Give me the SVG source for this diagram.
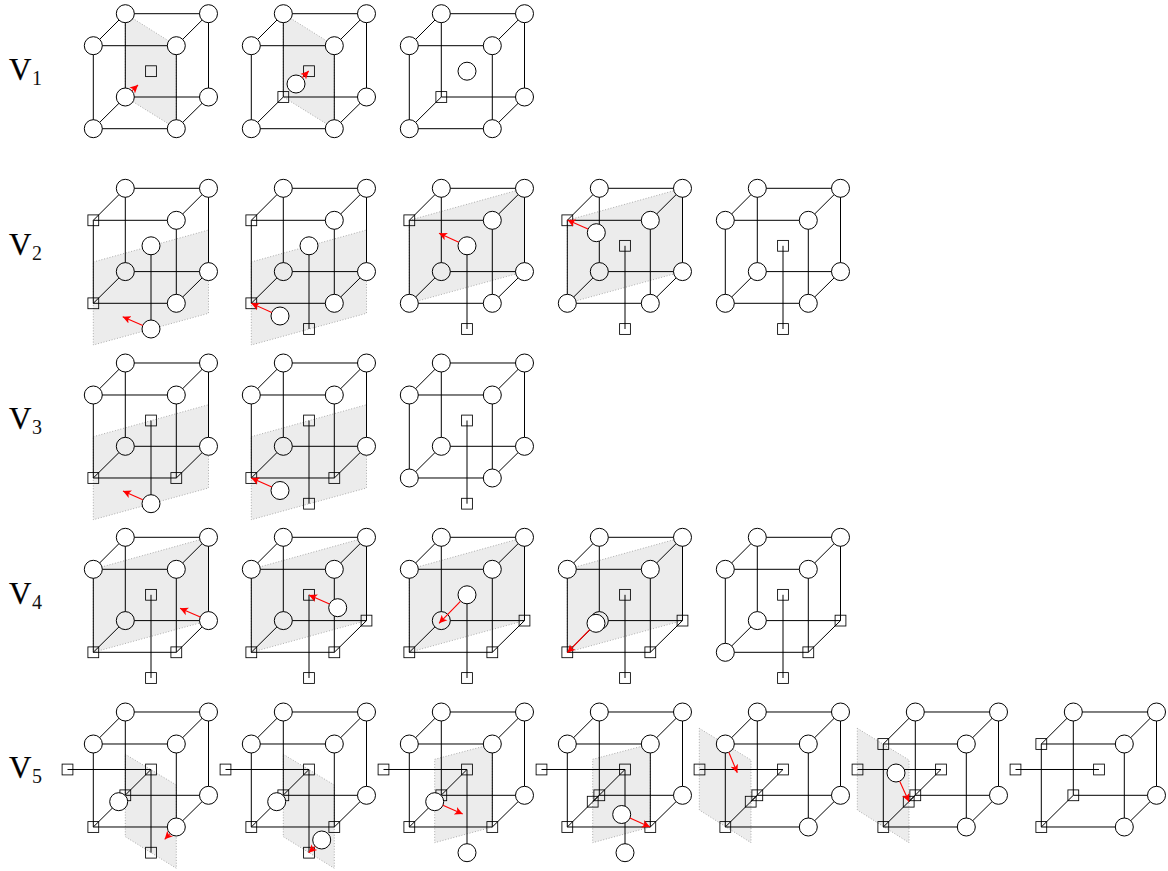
<svg xmlns="http://www.w3.org/2000/svg" width="1168" height="871" viewBox="0 0 1168 871">
<style>
.bg{fill:#fff}
.lab{font-family:"Liberation Serif","DejaVu Serif",serif;font-size:31px;fill:#000;stroke:#000;stroke-width:.25}
.sub{font-size:20px;fill:#111;stroke-width:0}
.plane{fill:#ececec;stroke:#999;stroke-width:.8;stroke-dasharray:1 1.8}
.edge{fill:none;stroke:#000;stroke-width:1}
.circ{fill:#fff;stroke:#000;stroke-width:1}
.shade{fill:#ececec;stroke:#000;stroke-width:1}
.sq{fill:none;stroke:#000;stroke-width:.85}
.arr{stroke:#f00;stroke-width:1.1;fill:none;marker-end:url(#head)}
</style>
<defs>
<marker id="head" markerUnits="userSpaceOnUse" markerWidth="12" markerHeight="12" refX="8" refY="5" orient="auto"><path d="M0 1L8 5L0 9L2 5Z" fill="#f00"/></marker>
<circle id="c" r="9" class="circ"/>
<circle id="g" r="9" class="shade"/>
<rect id="s" x="-5.4" y="-5.4" width="10.8" height="10.8" class="sq"/>
<path id="cube" class="edge" d="M93.3 45.7H176.3V128.7H93.3ZM125.3 13.7H208.5V97H125.3ZM93.3 45.7L125.3 13.7M176.3 45.7L208.5 13.7M93.3 128.7L125.3 97M176.3 128.7L208.5 97"/>
<path id="ij" class="edge" d="M151 71.2V154.4"/>
<path id="kl" class="edge" d="M67.5 71.2H151"/>
<path id="lz" class="edge" d="M151 71.2L118.7 103.4"/>
<polygon id="p1" class="plane" points="125.3,13.7 176.3,45.7 176.3,128.7 125.3,97"/>
<polygon id="p2" class="plane" points="93.3,87.4 208.5,55.4 208.5,138.7 93.3,170.4"/>
<polygon id="p3" class="plane" points="93.3,45.7 208.5,13.7 208.5,97 93.3,128.7"/>
<polygon id="p4" class="plane" points="125.3,56 176.3,86.7 176.3,170 125.3,138.4"/>
<polygon id="p5" class="plane" points="118.7,61 176.3,45.7 176.3,128.7 118.7,144.4"/>
<polygon id="p6" class="plane" points="67.3,30 119,61.7 119,144.4 67.3,111.7"/>
</defs>
<rect class="bg" width="1168" height="871"/>
<g id="labels">
<text class="lab" x="9" y="80">V<tspan class="sub" x="32" y="85">1</tspan></text>
<text class="lab" x="9" y="254.5">V<tspan class="sub" x="32" y="259.5">2</tspan></text>
<text class="lab" x="9" y="429">V<tspan class="sub" x="32" y="434">3</tspan></text>
<text class="lab" x="9" y="603.5">V<tspan class="sub" x="32" y="608.5">4</tspan></text>
<text class="lab" x="9" y="778">V<tspan class="sub" x="32" y="783">5</tspan></text>
</g>
<g id="planes">
<use href="#p1" transform="translate(0 0)"/>
<use href="#p1" transform="translate(158 0)"/>
<use href="#p2" transform="translate(0 174.6)"/>
<use href="#p2" transform="translate(158 174.6)"/>
<use href="#p3" transform="translate(316 174.6)"/>
<use href="#p3" transform="translate(474 174.6)"/>
<use href="#p2" transform="translate(0 349.3)"/>
<use href="#p2" transform="translate(158 349.3)"/>
<use href="#p3" transform="translate(0 523.6)"/>
<use href="#p3" transform="translate(158 523.6)"/>
<use href="#p3" transform="translate(316 523.6)"/>
<use href="#p3" transform="translate(474 523.6)"/>
<use href="#p4" transform="translate(0 698.3)"/>
<use href="#p4" transform="translate(158 698.3)"/>
<use href="#p5" transform="translate(316 698.3)"/>
<use href="#p5" transform="translate(474 698.3)"/>
<use href="#p6" transform="translate(632 698.3)"/>
<use href="#p6" transform="translate(790 698.3)"/>
</g>
<g id="connectors">
<use href="#cube" transform="translate(0 0)"/>
<use href="#cube" transform="translate(158 0)"/>
<use href="#cube" transform="translate(316 0)"/>
<g transform="translate(0 174.6)"><use href="#cube"/><use href="#ij"/></g>
<g transform="translate(158 174.6)"><use href="#cube"/><use href="#ij"/></g>
<g transform="translate(316 174.6)"><use href="#cube"/><use href="#ij"/></g>
<g transform="translate(474 174.6)"><use href="#cube"/><use href="#ij"/></g>
<g transform="translate(632 174.6)"><use href="#cube"/><use href="#ij"/></g>
<g transform="translate(0 349.3)"><use href="#cube"/><use href="#ij"/></g>
<g transform="translate(158 349.3)"><use href="#cube"/><use href="#ij"/></g>
<g transform="translate(316 349.3)"><use href="#cube"/><use href="#ij"/></g>
<g transform="translate(0 523.6)"><use href="#cube"/><use href="#ij"/></g>
<g transform="translate(158 523.6)"><use href="#cube"/><use href="#ij"/></g>
<g transform="translate(316 523.6)"><use href="#cube"/><use href="#ij"/></g>
<g transform="translate(474 523.6)"><use href="#cube"/><use href="#ij"/></g>
<g transform="translate(632 523.6)"><use href="#cube"/><use href="#ij"/></g>
<g transform="translate(0 698.3)"><use href="#cube"/><use href="#ij"/><use href="#kl"/><use href="#lz"/></g>
<g transform="translate(158 698.3)"><use href="#cube"/><use href="#ij"/><use href="#kl"/><use href="#lz"/></g>
<g transform="translate(316 698.3)"><use href="#cube"/><use href="#ij"/><use href="#kl"/><use href="#lz"/></g>
<g transform="translate(474 698.3)"><use href="#cube"/><use href="#ij"/><use href="#kl"/><use href="#lz"/></g>
<g transform="translate(632 698.3)"><use href="#cube"/><use href="#kl"/><use href="#lz"/></g>
<g transform="translate(790 698.3)"><use href="#cube"/><use href="#kl"/><use href="#lz"/></g>
<g transform="translate(948 698.3)"><use href="#cube"/><use href="#kl"/></g>
</g>
<g id="nodes">
<g id="p11" transform="translate(0 0)">
<g id="p11A"><use href="#c" x="93.3" y="45.7"/></g><g id="p11B"><use href="#c" x="176.3" y="45.7"/></g><g id="p11C"><use href="#c" x="125.3" y="13.7"/></g><g id="p11D"><use href="#c" x="208.5" y="13.7"/></g><g id="p11E"><use href="#c" x="93.3" y="128.7"/></g><g id="p11F"><use href="#c" x="176.3" y="128.7"/></g><g id="p11G"><use href="#c" x="125.3" y="97"/></g><g id="p11H"><use href="#c" x="208.5" y="97"/></g><g id="p11I"><use href="#s" x="151" y="71.2"/></g>
</g>
<g id="p12" transform="translate(158 0)">
<g id="p12A"><use href="#c" x="93.3" y="45.7"/></g><g id="p12B"><use href="#c" x="176.3" y="45.7"/></g><g id="p12C"><use href="#c" x="125.3" y="13.7"/></g><g id="p12D"><use href="#c" x="208.5" y="13.7"/></g><g id="p12E"><use href="#c" x="93.3" y="128.7"/></g><g id="p12F"><use href="#c" x="176.3" y="128.7"/></g><g id="p12G"><use href="#s" x="125.3" y="97"/></g><g id="p12H"><use href="#c" x="208.5" y="97"/></g><g id="p12I"><use href="#s" x="151" y="71.2"/></g><g id="p12M"><use href="#c" x="138" y="84"/></g>
</g>
<g id="p13" transform="translate(316 0)">
<g id="p13A"><use href="#c" x="93.3" y="45.7"/></g><g id="p13B"><use href="#c" x="176.3" y="45.7"/></g><g id="p13C"><use href="#c" x="125.3" y="13.7"/></g><g id="p13D"><use href="#c" x="208.5" y="13.7"/></g><g id="p13E"><use href="#c" x="93.3" y="128.7"/></g><g id="p13F"><use href="#c" x="176.3" y="128.7"/></g><g id="p13G"><use href="#s" x="125.3" y="97"/></g><g id="p13H"><use href="#c" x="208.5" y="97"/></g><g id="p13I"><use href="#c" x="151" y="71.2"/></g>
</g>
<g id="p21" transform="translate(0 174.6)">
<g id="p21A"><use href="#s" x="93.3" y="45.7"/></g><g id="p21B"><use href="#c" x="176.3" y="45.7"/></g><g id="p21C"><use href="#c" x="125.3" y="13.7"/></g><g id="p21D"><use href="#c" x="208.5" y="13.7"/></g><g id="p21E"><use href="#s" x="93.3" y="128.7"/></g><g id="p21F"><use href="#c" x="176.3" y="128.7"/></g><g id="p21G"><use href="#g" x="125.3" y="97"/></g><g id="p21H"><use href="#c" x="208.5" y="97"/></g><g id="p21I"><use href="#c" x="151" y="71.2"/></g><g id="p21J"><use href="#c" x="151" y="154.4"/></g>
</g>
<g id="p22" transform="translate(158 174.6)">
<g id="p22A"><use href="#s" x="93.3" y="45.7"/></g><g id="p22B"><use href="#c" x="176.3" y="45.7"/></g><g id="p22C"><use href="#c" x="125.3" y="13.7"/></g><g id="p22D"><use href="#c" x="208.5" y="13.7"/></g><g id="p22E"><use href="#s" x="93.3" y="128.7"/></g><g id="p22F"><use href="#c" x="176.3" y="128.7"/></g><g id="p22G"><use href="#g" x="125.3" y="97"/></g><g id="p22H"><use href="#c" x="208.5" y="97"/></g><g id="p22I"><use href="#c" x="151" y="71.2"/></g><g id="p22J"><use href="#s" x="151" y="154.4"/></g><g id="p22M"><use href="#c" x="122" y="141.4"/></g>
</g>
<g id="p23" transform="translate(316 174.6)">
<g id="p23A"><use href="#s" x="93.3" y="45.7"/></g><g id="p23B"><use href="#c" x="176.3" y="45.7"/></g><g id="p23C"><use href="#c" x="125.3" y="13.7"/></g><g id="p23D"><use href="#c" x="208.5" y="13.7"/></g><g id="p23E"><use href="#c" x="93.3" y="128.7"/></g><g id="p23F"><use href="#c" x="176.3" y="128.7"/></g><g id="p23G"><use href="#g" x="125.3" y="97"/></g><g id="p23H"><use href="#c" x="208.5" y="97"/></g><g id="p23I"><use href="#c" x="151" y="71.2"/></g><g id="p23J"><use href="#s" x="151" y="154.4"/></g>
</g>
<g id="p24" transform="translate(474 174.6)">
<g id="p24A"><use href="#s" x="93.3" y="45.7"/></g><g id="p24B"><use href="#c" x="176.3" y="45.7"/></g><g id="p24C"><use href="#c" x="125.3" y="13.7"/></g><g id="p24D"><use href="#c" x="208.5" y="13.7"/></g><g id="p24E"><use href="#c" x="93.3" y="128.7"/></g><g id="p24F"><use href="#c" x="176.3" y="128.7"/></g><g id="p24G"><use href="#g" x="125.3" y="97"/></g><g id="p24H"><use href="#c" x="208.5" y="97"/></g><g id="p24I"><use href="#s" x="151" y="71.2"/></g><g id="p24J"><use href="#s" x="151" y="154.4"/></g><g id="p24M"><use href="#c" x="122.3" y="58.1"/></g>
</g>
<g id="p25" transform="translate(632 174.6)">
<g id="p25A"><use href="#c" x="93.3" y="45.7"/></g><g id="p25B"><use href="#c" x="176.3" y="45.7"/></g><g id="p25C"><use href="#c" x="125.3" y="13.7"/></g><g id="p25D"><use href="#c" x="208.5" y="13.7"/></g><g id="p25E"><use href="#c" x="93.3" y="128.7"/></g><g id="p25F"><use href="#c" x="176.3" y="128.7"/></g><g id="p25G"><use href="#c" x="125.3" y="97"/></g><g id="p25H"><use href="#c" x="208.5" y="97"/></g><g id="p25I"><use href="#s" x="151" y="71.2"/></g><g id="p25J"><use href="#s" x="151" y="154.4"/></g>
</g>
<g id="p31" transform="translate(0 349.3)">
<g id="p31A"><use href="#c" x="93.3" y="45.7"/></g><g id="p31B"><use href="#c" x="176.3" y="45.7"/></g><g id="p31C"><use href="#c" x="125.3" y="13.7"/></g><g id="p31D"><use href="#c" x="208.5" y="13.7"/></g><g id="p31E"><use href="#s" x="93.3" y="128.7"/></g><g id="p31F"><use href="#s" x="176.3" y="128.7"/></g><g id="p31G"><use href="#g" x="125.3" y="97"/></g><g id="p31H"><use href="#c" x="208.5" y="97"/></g><g id="p31I"><use href="#s" x="151" y="71.2"/></g><g id="p31J"><use href="#c" x="151" y="154.4"/></g>
</g>
<g id="p32" transform="translate(158 349.3)">
<g id="p32A"><use href="#c" x="93.3" y="45.7"/></g><g id="p32B"><use href="#c" x="176.3" y="45.7"/></g><g id="p32C"><use href="#c" x="125.3" y="13.7"/></g><g id="p32D"><use href="#c" x="208.5" y="13.7"/></g><g id="p32E"><use href="#s" x="93.3" y="128.7"/></g><g id="p32F"><use href="#s" x="176.3" y="128.7"/></g><g id="p32G"><use href="#g" x="125.3" y="97"/></g><g id="p32H"><use href="#c" x="208.5" y="97"/></g><g id="p32I"><use href="#s" x="151" y="71.2"/></g><g id="p32J"><use href="#s" x="151" y="154.4"/></g><g id="p32M"><use href="#c" x="122" y="141.2"/></g>
</g>
<g id="p33" transform="translate(316 349.3)">
<g id="p33A"><use href="#c" x="93.3" y="45.7"/></g><g id="p33B"><use href="#c" x="176.3" y="45.7"/></g><g id="p33C"><use href="#c" x="125.3" y="13.7"/></g><g id="p33D"><use href="#c" x="208.5" y="13.7"/></g><g id="p33E"><use href="#c" x="93.3" y="128.7"/></g><g id="p33F"><use href="#c" x="176.3" y="128.7"/></g><g id="p33G"><use href="#c" x="125.3" y="97"/></g><g id="p33H"><use href="#c" x="208.5" y="97"/></g><g id="p33I"><use href="#s" x="151" y="71.2"/></g><g id="p33J"><use href="#s" x="151" y="154.4"/></g>
</g>
<g id="p41" transform="translate(0 523.6)">
<g id="p41A"><use href="#c" x="93.3" y="45.7"/></g><g id="p41B"><use href="#c" x="176.3" y="45.7"/></g><g id="p41C"><use href="#c" x="125.3" y="13.7"/></g><g id="p41D"><use href="#c" x="208.5" y="13.7"/></g><g id="p41E"><use href="#s" x="93.3" y="128.7"/></g><g id="p41F"><use href="#s" x="176.3" y="128.7"/></g><g id="p41G"><use href="#g" x="125.3" y="97"/></g><g id="p41H"><use href="#c" x="208.5" y="97"/></g><g id="p41I"><use href="#s" x="151" y="71.2"/></g><g id="p41J"><use href="#s" x="151" y="154.4"/></g>
</g>
<g id="p42" transform="translate(158 523.6)">
<g id="p42A"><use href="#c" x="93.3" y="45.7"/></g><g id="p42B"><use href="#c" x="176.3" y="45.7"/></g><g id="p42C"><use href="#c" x="125.3" y="13.7"/></g><g id="p42D"><use href="#c" x="208.5" y="13.7"/></g><g id="p42E"><use href="#s" x="93.3" y="128.7"/></g><g id="p42F"><use href="#s" x="176.3" y="128.7"/></g><g id="p42G"><use href="#g" x="125.3" y="97"/></g><g id="p42H"><use href="#s" x="208.5" y="97"/></g><g id="p42I"><use href="#s" x="151" y="71.2"/></g><g id="p42J"><use href="#s" x="151" y="154.4"/></g><g id="p42M"><use href="#c" x="179.7" y="84.1"/></g>
</g>
<g id="p43" transform="translate(316 523.6)">
<g id="p43A"><use href="#c" x="93.3" y="45.7"/></g><g id="p43B"><use href="#c" x="176.3" y="45.7"/></g><g id="p43C"><use href="#c" x="125.3" y="13.7"/></g><g id="p43D"><use href="#c" x="208.5" y="13.7"/></g><g id="p43E"><use href="#s" x="93.3" y="128.7"/></g><g id="p43F"><use href="#s" x="176.3" y="128.7"/></g><g id="p43G"><use href="#g" x="125.3" y="97"/></g><g id="p43H"><use href="#s" x="208.5" y="97"/></g><g id="p43I"><use href="#c" x="151" y="71.2"/></g><g id="p43J"><use href="#s" x="151" y="154.4"/></g>
</g>
<g id="p44" transform="translate(474 523.6)">
<g id="p44A"><use href="#c" x="93.3" y="45.7"/></g><g id="p44B"><use href="#c" x="176.3" y="45.7"/></g><g id="p44C"><use href="#c" x="125.3" y="13.7"/></g><g id="p44D"><use href="#c" x="208.5" y="13.7"/></g><g id="p44E"><use href="#s" x="93.3" y="128.7"/></g><g id="p44F"><use href="#s" x="176.3" y="128.7"/></g><g id="p44G"><use href="#g" x="125.3" y="97"/></g><g id="p44H"><use href="#s" x="208.5" y="97"/></g><g id="p44I"><use href="#s" x="151" y="71.2"/></g><g id="p44J"><use href="#s" x="151" y="154.4"/></g><g id="p44M"><use href="#c" x="122" y="99.7"/></g>
</g>
<g id="p45" transform="translate(632 523.6)">
<g id="p45A"><use href="#c" x="93.3" y="45.7"/></g><g id="p45B"><use href="#c" x="176.3" y="45.7"/></g><g id="p45C"><use href="#c" x="125.3" y="13.7"/></g><g id="p45D"><use href="#c" x="208.5" y="13.7"/></g><g id="p45E"><use href="#c" x="93.3" y="128.7"/></g><g id="p45F"><use href="#s" x="176.3" y="128.7"/></g><g id="p45G"><use href="#c" x="125.3" y="97"/></g><g id="p45H"><use href="#s" x="208.5" y="97"/></g><g id="p45I"><use href="#s" x="151" y="71.2"/></g><g id="p45J"><use href="#s" x="151" y="154.4"/></g>
</g>
<g id="p51" transform="translate(0 698.3)">
<g id="p51A"><use href="#c" x="93.3" y="45.7"/></g><g id="p51B"><use href="#c" x="176.3" y="45.7"/></g><g id="p51C"><use href="#c" x="125.3" y="13.7"/></g><g id="p51D"><use href="#c" x="208.5" y="13.7"/></g><g id="p51E"><use href="#s" x="93.3" y="128.7"/></g><g id="p51F"><use href="#c" x="176.3" y="128.7"/></g><g id="p51G"><use href="#s" x="125.3" y="97"/></g><g id="p51H"><use href="#c" x="208.5" y="97"/></g><g id="p51K"><use href="#s" x="67.5" y="71.2"/></g><g id="p51I"><use href="#s" x="151" y="71.2"/></g><g id="p51J"><use href="#s" x="151" y="154.4"/></g><g id="p51Z"><use href="#c" x="118.7" y="103.4"/></g>
</g>
<g id="p52" transform="translate(158 698.3)">
<g id="p52A"><use href="#c" x="93.3" y="45.7"/></g><g id="p52B"><use href="#c" x="176.3" y="45.7"/></g><g id="p52C"><use href="#c" x="125.3" y="13.7"/></g><g id="p52D"><use href="#c" x="208.5" y="13.7"/></g><g id="p52E"><use href="#s" x="93.3" y="128.7"/></g><g id="p52F"><use href="#s" x="176.3" y="128.7"/></g><g id="p52G"><use href="#s" x="125.3" y="97"/></g><g id="p52H"><use href="#c" x="208.5" y="97"/></g><g id="p52K"><use href="#s" x="67.5" y="71.2"/></g><g id="p52I"><use href="#s" x="151" y="71.2"/></g><g id="p52J"><use href="#s" x="151" y="154.4"/></g><g id="p52Z"><use href="#c" x="118.7" y="103.4"/></g><g id="p52M"><use href="#c" x="163.7" y="141.7"/></g>
</g>
<g id="p53" transform="translate(316 698.3)">
<g id="p53A"><use href="#c" x="93.3" y="45.7"/></g><g id="p53B"><use href="#c" x="176.3" y="45.7"/></g><g id="p53C"><use href="#c" x="125.3" y="13.7"/></g><g id="p53D"><use href="#c" x="208.5" y="13.7"/></g><g id="p53E"><use href="#s" x="93.3" y="128.7"/></g><g id="p53F"><use href="#s" x="176.3" y="128.7"/></g><g id="p53G"><use href="#s" x="125.3" y="97"/></g><g id="p53H"><use href="#c" x="208.5" y="97"/></g><g id="p53K"><use href="#s" x="67.5" y="71.2"/></g><g id="p53I"><use href="#s" x="151" y="71.2"/></g><g id="p53J"><use href="#c" x="151" y="154.4"/></g><g id="p53Z"><use href="#c" x="118.7" y="103.4"/></g>
</g>
<g id="p54" transform="translate(474 698.3)">
<g id="p54A"><use href="#c" x="93.3" y="45.7"/></g><g id="p54B"><use href="#c" x="176.3" y="45.7"/></g><g id="p54C"><use href="#c" x="125.3" y="13.7"/></g><g id="p54D"><use href="#c" x="208.5" y="13.7"/></g><g id="p54E"><use href="#s" x="93.3" y="128.7"/></g><g id="p54F"><use href="#s" x="176.3" y="128.7"/></g><g id="p54G"><use href="#s" x="125.3" y="97"/></g><g id="p54H"><use href="#c" x="208.5" y="97"/></g><g id="p54K"><use href="#s" x="67.5" y="71.2"/></g><g id="p54I"><use href="#s" x="151" y="71.2"/></g><g id="p54J"><use href="#c" x="151" y="154.4"/></g><g id="p54Z"><use href="#s" x="118.7" y="103.4"/></g><g id="p54M"><use href="#c" x="147.7" y="116.2"/></g>
</g>
<g id="p55" transform="translate(632 698.3)">
<g id="p55A"><use href="#c" x="93.3" y="45.7"/></g><g id="p55B"><use href="#c" x="176.3" y="45.7"/></g><g id="p55C"><use href="#c" x="125.3" y="13.7"/></g><g id="p55D"><use href="#c" x="208.5" y="13.7"/></g><g id="p55E"><use href="#s" x="93.3" y="128.7"/></g><g id="p55F"><use href="#c" x="176.3" y="128.7"/></g><g id="p55G"><use href="#s" x="125.3" y="97"/></g><g id="p55H"><use href="#c" x="208.5" y="97"/></g><g id="p55K"><use href="#s" x="67.5" y="71.2"/></g><g id="p55I"><use href="#s" x="151" y="71.2"/></g><g id="p55Z"><use href="#s" x="118.7" y="103.4"/></g>
</g>
<g id="p56" transform="translate(790 698.3)">
<g id="p56A"><use href="#s" x="93.3" y="45.7"/></g><g id="p56B"><use href="#c" x="176.3" y="45.7"/></g><g id="p56C"><use href="#c" x="125.3" y="13.7"/></g><g id="p56D"><use href="#c" x="208.5" y="13.7"/></g><g id="p56E"><use href="#s" x="93.3" y="128.7"/></g><g id="p56F"><use href="#c" x="176.3" y="128.7"/></g><g id="p56G"><use href="#s" x="125.3" y="97"/></g><g id="p56H"><use href="#c" x="208.5" y="97"/></g><g id="p56K"><use href="#s" x="67.5" y="71.2"/></g><g id="p56I"><use href="#s" x="151" y="71.2"/></g><g id="p56Z"><use href="#s" x="118.7" y="103.4"/></g><g id="p56M"><use href="#c" x="106" y="74.7"/></g>
</g>
<g id="p57" transform="translate(948 698.3)">
<g id="p57A"><use href="#s" x="93.3" y="45.7"/></g><g id="p57B"><use href="#c" x="176.3" y="45.7"/></g><g id="p57C"><use href="#c" x="125.3" y="13.7"/></g><g id="p57D"><use href="#c" x="208.5" y="13.7"/></g><g id="p57E"><use href="#s" x="93.3" y="128.7"/></g><g id="p57F"><use href="#c" x="176.3" y="128.7"/></g><g id="p57G"><use href="#s" x="125.3" y="97"/></g><g id="p57H"><use href="#c" x="208.5" y="97"/></g><g id="p57K"><use href="#s" x="67.5" y="71.2"/></g><g id="p57I"><use href="#s" x="151" y="71.2"/></g>
</g>
</g>
<g id="moves">
<line class="arr" x1="131.9" y1="90.8" x2="138" y2="85"/>
<line class="arr" x1="302.3" y1="77.6" x2="308.7" y2="71"/>
<line class="arr" x1="142.8" y1="325.4" x2="122.7" y2="316.7"/>
<line class="arr" x1="271.8" y1="312.4" x2="251.3" y2="303.3"/>
<line class="arr" x1="458.8" y1="242.3" x2="439" y2="233.3"/>
<line class="arr" x1="588" y1="229" x2="567.5" y2="220"/>
<line class="arr" x1="142.8" y1="499.8" x2="123" y2="491"/>
<line class="arr" x1="271.8" y1="486.9" x2="251.3" y2="478"/>
<line class="arr" x1="200.3" y1="617.1" x2="180" y2="608.3"/>
<line class="arr" x1="329.5" y1="604.1" x2="309" y2="595"/>
<line class="arr" x1="460.4" y1="601.4" x2="439" y2="623.3"/>
<line class="arr" x1="589.7" y1="629.7" x2="567.3" y2="652.7"/>
<line class="arr" x1="170.1" y1="833.5" x2="164.7" y2="839.3"/>
<line class="arr" x1="315.3" y1="846.3" x2="308.7" y2="852.7"/>
<line class="arr" x1="442.9" y1="805.3" x2="462.7" y2="814"/>
<line class="arr" x1="629.9" y1="818.1" x2="650" y2="827"/>
<line class="arr" x1="728.8" y1="752.3" x2="737.3" y2="772.7"/>
<line class="arr" x1="899.7" y1="781.2" x2="909" y2="801.7"/>
</g>
</svg>
